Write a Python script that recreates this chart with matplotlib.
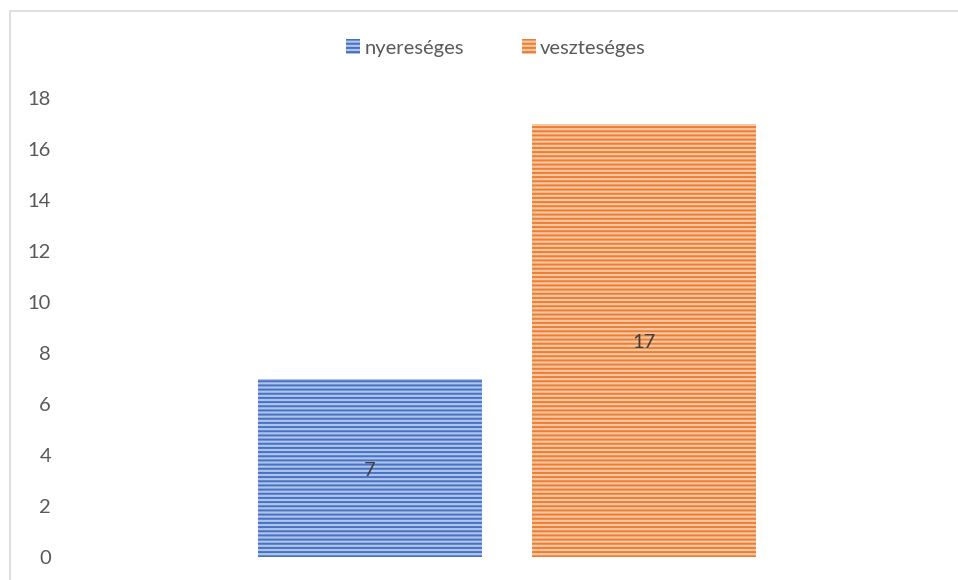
import matplotlib
matplotlib.use('Agg')
import matplotlib.pyplot as plt
from matplotlib.lines import Line2D

plt.rcParams['font.family'] = ['Lato', 'DejaVu Sans']
plt.rcParams['hatch.linewidth'] = 1.4

series = ['nyereséges', 'veszteséges']
values = [7, 17]
colors = ['#4472C4', '#ED7D31']
light = ['#B0C3E8', '#F7C6A3']
yticks = [0, 2, 4, 6, 8, 10, 12, 14, 16, 18]

fig = plt.figure(figsize=(9.58, 5.80), dpi=100)
# chart border (only left and top are inside the picture)
fx, fy = 9.5 / 958, 1 - 10.5 / 580
fig.lines.append(Line2D([fx, fx, 1], [0, fy, fy], transform=fig.transFigure,
                        color='#D9D9D9', linewidth=1.2))

ax = fig.add_axes([65/958, 23/580, 885/958, 459/580])
for i in range(len(series)):
    ax.bar(i, values[i], width=0.82, color=light[i], edgecolor=colors[i],
           linewidth=0, hatch='----', label=series[i])
    ax.text(i, values[i] / 2 - 0.1, str(values[i]), ha='center', va='center',
            fontsize=14.5, color='#404040')

ax.set_xlim(-1.113, 2.117)
ax.set_ylim(0, 18)
ax.set_yticks(yticks)
ax.set_xticks([])
ax.tick_params(axis='y', length=0, labelsize=14.5, labelcolor='#595959', pad=10)
for s in ax.spines.values():
    s.set_visible(False)

fig.legend(loc='center', bbox_to_anchor=(496/958, 1 - 48/580), ncol=2, frameon=False,
           fontsize=14.5, labelcolor='#595959', handlelength=0.7, handleheight=0.7,
           handletextpad=0.2, columnspacing=2.9)

fig.savefig('out.png', dpi=100)
